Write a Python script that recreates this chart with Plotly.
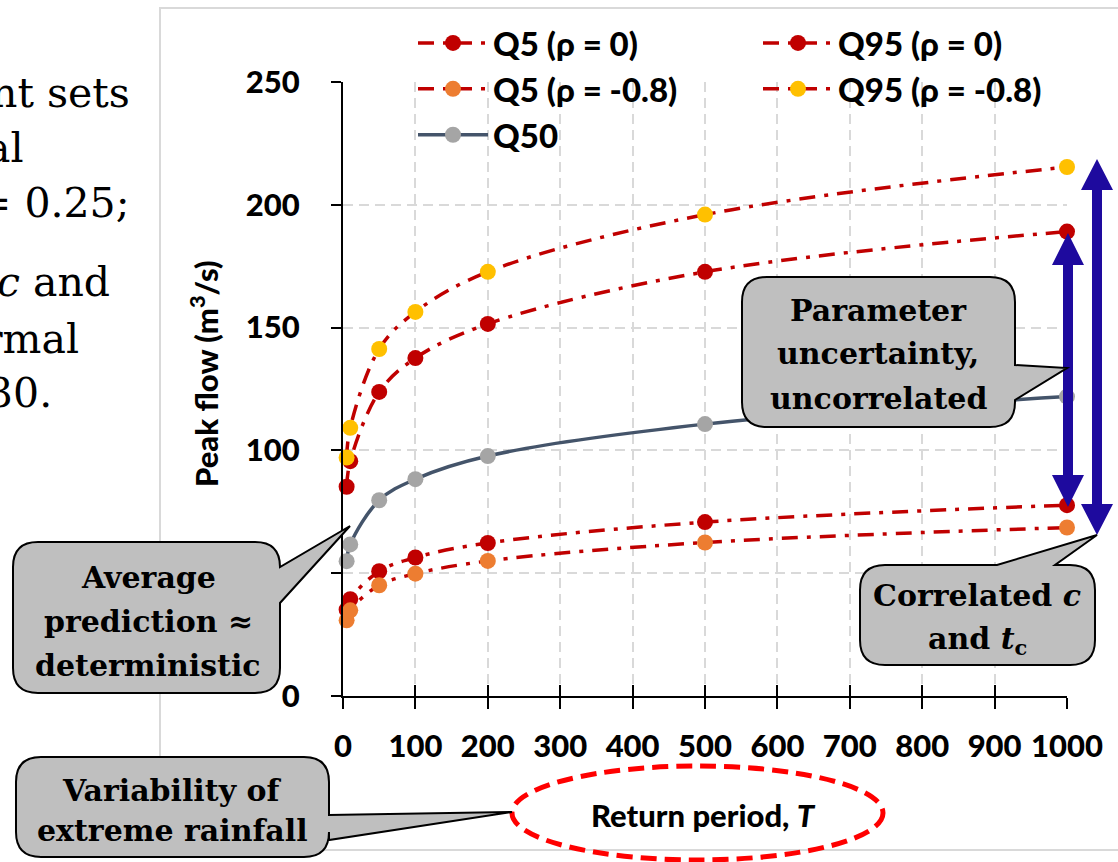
import plotly.graph_objects as go

# ---------------- data ----------------
T = [5, 10, 50, 100, 200, 500, 1000]
q5_rho0 = [35.2, 39.4, 50.8, 56.4, 62.3, 70.8, 77.7]
q95_rho0 = [85.2, 95.6, 123.8, 137.6, 151.5, 172.7, 189.1]
q5_rho08 = [30.8, 34.9, 45.1, 49.8, 55.0, 62.5, 68.6]
q95_rho08 = [97.1, 109.2, 141.3, 156.4, 172.7, 196.0, 215.4]
q50 = [54.9, 61.7, 79.7, 88.3, 97.7, 110.7, 121.9]

x_ticks = list(range(0, 1001, 100))
y_ticks = list(range(0, 251, 50))

series_names = ["Q5 (ρ = 0)", "Q95 (ρ = 0)", "Q5 (ρ = -0.8)", "Q95 (ρ = -0.8)", "Q50"]

# ---------------- geometry helpers ----------------
W, H = 1118, 862
ML, MR, MT, MB = 343, 51, 82, 166
PW = W - ML - MR
PH = H - MT - MB


def px(x):
    return (x - ML) / PW


def py(y):
    return (H - MB - y) / PH


def callout_path(x0, y0, x1, y1, r, side, a, b, tip):
    """Rounded rectangle (pixel coords) with a pointer tail, returned as paper-coord path."""
    pts = []

    def P(cmd, *xy):
        coords = []
        for i in range(0, len(xy), 2):
            coords.append(f"{px(xy[i]):.5f},{py(xy[i+1]):.5f}")
        pts.append(cmd + " ".join(coords))

    P("M", x0 + r, y0)
    if side == "top":
        P("L", a, y0)
        P("L", tip[0], tip[1])
        P("L", b, y0)
    P("L", x1 - r, y0)
    P("Q", x1, y0, x1, y0 + r)
    if side == "right":
        P("L", x1, a)
        P("L", tip[0], tip[1])
        P("L", x1, b)
    P("L", x1, y1 - r)
    P("Q", x1, y1, x1 - r, y1)
    P("L", x0 + r, y1)
    P("Q", x0, y1, x0, y1 - r)
    P("L", x0, y0 + r)
    P("Q", x0, y0, x0 + r, y0)
    return " ".join(pts) + " Z"


def double_arrow_path(cx, yt, yb, sw, hw, hl):
    p = [(cx, yt), (cx + hw, yt + hl), (cx + sw / 2, yt + hl), (cx + sw / 2, yb - hl),
         (cx + hw, yb - hl), (cx, yb), (cx - hw, yb - hl), (cx - sw / 2, yb - hl),
         (cx - sw / 2, yt + hl), (cx - hw, yt + hl)]
    return "M" + " L".join(f"{px(x):.5f},{py(y):.5f}" for x, y in p) + " Z"


RED = "#C00000"
ORANGE = "#ED7D31"
YELLOW = "#FFC000"
GREY = "#A5A5A5"
SLATE = "#44546A"
NAVY = "#1E0A9E"
DASHDOT = "16px,9px,4px,9px"
SANS = "Lato"
SERIF = "DejaVu Serif"
HEAVY = 900

fig = go.Figure()

styles = [
    (q5_rho0, RED, "legend"),
    (q95_rho0, RED, "legend2"),
    (q5_rho08, ORANGE, "legend"),
    (q95_rho08, YELLOW, "legend2"),
]
for (vals, col, leg), name in zip(styles, series_names[:4]):
    fig.add_trace(go.Scatter(
        x=T, y=vals, name=name, mode="lines+markers", legend=leg,
        line=dict(color=RED, width=3.5, dash=DASHDOT, shape="spline", smoothing=1.0),
        marker=dict(color=col, size=16, line=dict(width=0)),
        cliponaxis=False,
    ))

fig.add_trace(go.Scatter(
    x=T, y=q50, name=series_names[4], mode="lines+markers", legend="legend",
    line=dict(color=SLATE, width=3.5, shape="spline", smoothing=1.0),
    marker=dict(color=GREY, size=16, line=dict(width=0)),
    cliponaxis=False,
))

# invisible helper trace so the overlay axis (upper half of crossing ticks) renders
fig.add_trace(go.Scatter(x=[None], y=[None], xaxis="x2", yaxis="y", showlegend=False,
                         hoverinfo="skip", mode="markers"))

tickfont = dict(family=SANS, size=31, color="black", weight=HEAVY)

fig.update_layout(
    width=W, height=H,
    margin=dict(l=ML, r=MR, t=MT, b=MB, pad=0),
    paper_bgcolor="white", plot_bgcolor="white",
    xaxis=dict(
        range=[0, 1000], tickvals=x_ticks, ticktext=[str(v) for v in x_ticks],
        showgrid=True, gridcolor="#D9D9D9", gridwidth=1.5, griddash="10px,6px",
        showline=True, linecolor="black", linewidth=2,
        ticks="outside", ticklen=11, tickwidth=2, tickcolor="black",
        zeroline=False, tickfont=tickfont, ticklabelstandoff=11,
    ),
    xaxis2=dict(
        overlaying="x", anchor="y", side="bottom", range=[0, 1000], tickvals=x_ticks,
        ticks="inside", ticklen=11, tickwidth=2, tickcolor="black",
        showticklabels=False, showgrid=False, showline=False, zeroline=False,
    ),
    yaxis=dict(
        range=[0, 250], tickvals=y_ticks, ticktext=[str(v) for v in y_ticks],
        showgrid=True, gridcolor="#D9D9D9", gridwidth=1.5, griddash="10px,6px",
        showline=True, linecolor="black", linewidth=2,
        ticks="outside", ticklen=10, tickwidth=2, tickcolor="black",
        zeroline=False, tickfont=tickfont, ticklabelstandoff=25,
    ),
    legend=dict(
        x=px(413), y=py(15), xanchor="left", yanchor="top", orientation="v",
        bgcolor="rgba(0,0,0,0)", itemwidth=70, tracegroupgap=0,
        font=dict(family=SANS, size=33, color="black", weight=HEAVY),
    ),
    legend2=dict(
        x=px(758), y=py(15), xanchor="left", yanchor="top", orientation="v",
        bgcolor="rgba(0,0,0,0)", itemwidth=70, tracegroupgap=0,
        font=dict(family=SANS, size=33, color="black", weight=HEAVY),
    ),
    showlegend=True,
    hovermode=False,
)

shapes = []
# outer chart frame
shapes.append(dict(type="rect", xref="paper", yref="paper", layer="below",
                   x0=px(160), x1=px(1135), y0=py(850), y1=py(8),
                   line=dict(color="#D9D9D9", width=2), fillcolor="rgba(0,0,0,0)"))
# dashed ellipse round the x-axis title
shapes.append(dict(type="circle", xref="paper", yref="paper", layer="above",
                   x0=px(512), x1=px(883), y0=py(860), y1=py(766),
                   line=dict(color="#FF0000", width=5, dash="16px,8px")))
# double arrows
shapes.append(dict(type="path", xref="paper", yref="paper", layer="above",
                   path=double_arrow_path(1068, 233, 507, 10, 16, 32),
                   fillcolor=NAVY, line=dict(width=0)))
shapes.append(dict(type="path", xref="paper", yref="paper", layer="above",
                   path=double_arrow_path(1097, 159, 535, 10, 16, 31),
                   fillcolor=NAVY, line=dict(width=0)))
# callouts
callouts = [
    (742, 277, 1015, 427, 25, "right", 365, 400, (1067, 368)),
    (13, 542, 280, 693, 25, "right", 567, 603, (350, 526)),
    (860, 565, 1095, 665, 25, "top", 997, 1055, (1097, 535)),
    (16, 757, 329, 857, 25, "right", 815, 840, (512, 812)),
]
for c in callouts:
    shapes.append(dict(type="path", xref="paper", yref="paper", layer="above",
                       path=callout_path(*c), fillcolor="#BFBFBF",
                       line=dict(color="black", width=2)))
fig.update_layout(shapes=shapes)

ann = []


def add_text(text, x, y, font, xanchor="center", angle=0):
    ann.append(dict(text=text, x=px(x), y=py(y), xref="paper", yref="paper",
                    xanchor=xanchor, yanchor="middle", showarrow=False,
                    textangle=angle, font=font))


calfont = dict(family=SERIF, size=30, color="black", weight="bold")
for t, y in [("Parameter", 310), ("uncertainty,", 353), ("uncorrelated", 398)]:
    add_text(t, 878, y, calfont)
for t, y in [("Average", 577), ("prediction ≈", 621), ("deterministic", 665)]:
    add_text(t, 148, y, calfont)
for t, y in [("Correlated <i>c</i>", 595), ("and <i>t</i><sub>c</sub>", 640)]:
    add_text(t, 977, y, calfont)
for t, y in [("Variability of", 790), ("extreme rainfall", 830)]:
    add_text(t, 172, y, calfont)

# axis titles
add_text("Peak flow (m<sup>3</sup>/s)", 204, 374,
         dict(family=SANS, size=31, color="black", weight=HEAVY), angle=-90)
add_text("Return period, <i>T</i>", 703, 815,
         dict(family=SANS, size=31, color="black", weight=HEAVY))

# partial slide text on the left (cut off by the image edge)
serif = dict(family=SERIF, size=41, color="black")
for t, xr, y in [("nt sets", 132, 93), ("al", 26, 148), ("= 0.25;", 132, 203),
                 ("<i>c</i> and", 112, 282), ("rmal", 81, 339), ("30.", 54, 393)]:
    add_text(t, xr, y, serif, xanchor="right")

fig.update_layout(annotations=ann)

fig.write_html("out.html")
